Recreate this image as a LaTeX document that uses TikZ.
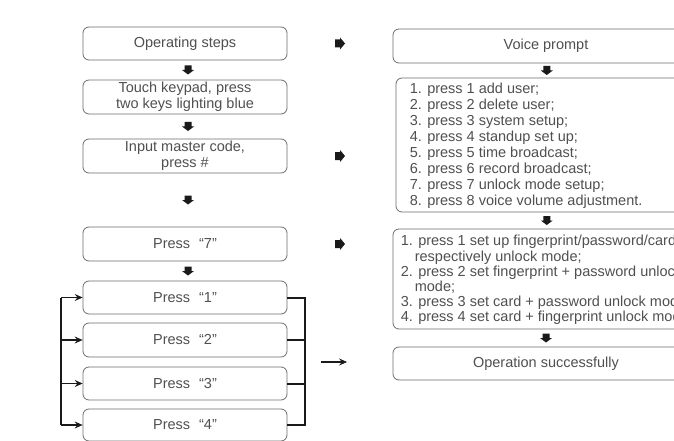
\documentclass[tikz,border=0pt]{standalone}
\usepackage{fontspec}
\setmainfont{Liberation Sans}
\usetikzlibrary{arrows.meta,calc}
\definecolor{boxgray}{HTML}{6E6E6E}
\definecolor{txtgray}{HTML}{505050}
\definecolor{ink}{HTML}{1A1A1A}
\newcommand{\dgfont}{\fontsize{14.5}{16}\selectfont}
\newcommand{\dglistA}{\fontsize{14.5}{16}\selectfont}
\newcommand{\dglistB}{\fontsize{14.5}{15.2}\selectfont}
\begin{document}
\begin{tikzpicture}[x=1pt,y=-1pt,
  box/.style={draw=boxgray,line width=0.8pt,rounded corners=6pt,inner sep=0pt,text=txtgray,font=\dgfont,align=center},
  lbox/.style={box,minimum width=204pt,minimum height=34pt},
  rbox/.style={box,minimum width=306pt,minimum height=34pt},
  listtext/.style={anchor=north west,inner sep=0pt,text=txtgray,align=left},
  bracket/.style={draw=ink,line width=2pt},
  feed/.style={draw=ink,line width=1.8pt,-{Stealth[length=8pt,width=7pt,inset=3pt,line width=0.6pt]}},
  pics/fatdown/.style={code={\fill[ink] (-3.5,-4.5) -- (3.5,-4.5) -- (3.5,0) -- (6,0) -- (0,4.5) -- (-6,0) -- (-3.5,0) -- cycle;}},
  pics/fatright/.style={code={\fill[ink] (-5,-4) -- (0,-4) -- (0,-6) -- (5,0) -- (0,6) -- (0,4) -- (-5,4) -- cycle;}},
]
\fill[white] (0,0) rectangle (674,441);
\useasboundingbox (0,0) rectangle (674,441);
\clip (0,0) rectangle (674,441);

% left column
\node[lbox,minimum height=33pt] (b1) at (185,43.5) {Operating steps};
\node[lbox] (b2) at (185,97) {Touch keypad, press\\two keys lighting blue};
\node[lbox] (b3) at (185,156) {Input master code,\\press \#};
\node[lbox] (b4) at (185,244) {Press\hspace{9pt}“7”};
\node[lbox,minimum height=33pt] (p1) at (185,297.5) {Press\hspace{9pt}“1”};
\node[lbox] (p2) at (185,340) {Press\hspace{9pt}“2”};
\node[lbox,minimum height=33pt] (p3) at (185,383.5) {Press\hspace{9pt}“3”};
\node[lbox,minimum height=32pt] (p4) at (185,425) {Press\hspace{9pt}“4”};

% right column
\node[rbox] (vp) at (546,46) {Voice prompt};
\node[box,minimum width=303pt,minimum height=134pt] (l1) at (547.5,145) {};
\node[listtext,font=\dglistA] (l1t) at ($(l1.north west)+(14,5)$) {1. press 1 add user;\\2. press 2 delete user;\\3. press 3 system setup;\\4. press 4 standup set up;\\5. press 5 time broadcast;\\6. press 6 record broadcast;\\7. press 7 unlock mode setup;\\8. press 8 voice volume adjustment.};
\node[box,minimum width=306pt,minimum height=100pt] (l2) at (546,279) {};
\node[listtext,font=\dglistB] (l2t) at ($(l2.north west)+(8,6.5)$) {1. press 1 set up fingerprint/password/card\\\hspace*{14pt}respectively unlock mode;\\2. press 2 set fingerprint + password unlock\\\hspace*{14pt}mode;\\3. press 3 set card + password unlock mode;\\4. press 4 set card + fingerprint unlock mode;};
\node[rbox,minimum height=33pt] (ok) at (546,363.5) {Operation successfully};

% fat arrows
\pic at ($(b1.south)!0.5!(b2.north)+(3,0)$) {fatdown};
\pic at ($(b2.south)!0.5!(b3.north)+(3,0)$) {fatdown};
\pic at ($(b3.south)!0.5!(b4.north)+(3,0)$) {fatdown};
\pic at ($(b4.south)!0.5!(p1.north)+(3,0)$) {fatdown};
\pic at ($(vp.south)!0.5!(l1.north)$) {fatdown};
\pic at ($(l1.south)!0.5!(l2.north)$) {fatdown};
\pic at ($(l2.south)!0.5!(ok.north)$) {fatdown};
\pic at ($(b1.east)!0.5!(b1.east -| vp.west)$) {fatright};
\pic at ($(b3.east)!0.5!(b3.east -| vp.west)$) {fatright};
\pic at ($(b4.east)!0.5!(b4.east -| vp.west)$) {fatright};

% brackets
\coordinate (rb) at (305,0);
\coordinate (lb) at (61,0);
\draw[bracket] (p1.east) -- (p1.east -| rb) -- (p4.east -| rb) -- (p4.east);
\draw[bracket] (p2.east) -- (p2.east -| rb);
\draw[bracket] (p3.east) -- (p3.east -| rb);
\draw[bracket] (p1.west -| lb) -- (p4.west -| lb);
\foreach \n in {p1,p2,p3,p4} \draw[feed] (\n.west -| lb) -- (\n.west);

% free arrow
\coordinate (fa) at (321,362);
\coordinate (fb) at (347,362);
\draw[feed] (fa) -- (fb);
\end{tikzpicture}
\end{document}
